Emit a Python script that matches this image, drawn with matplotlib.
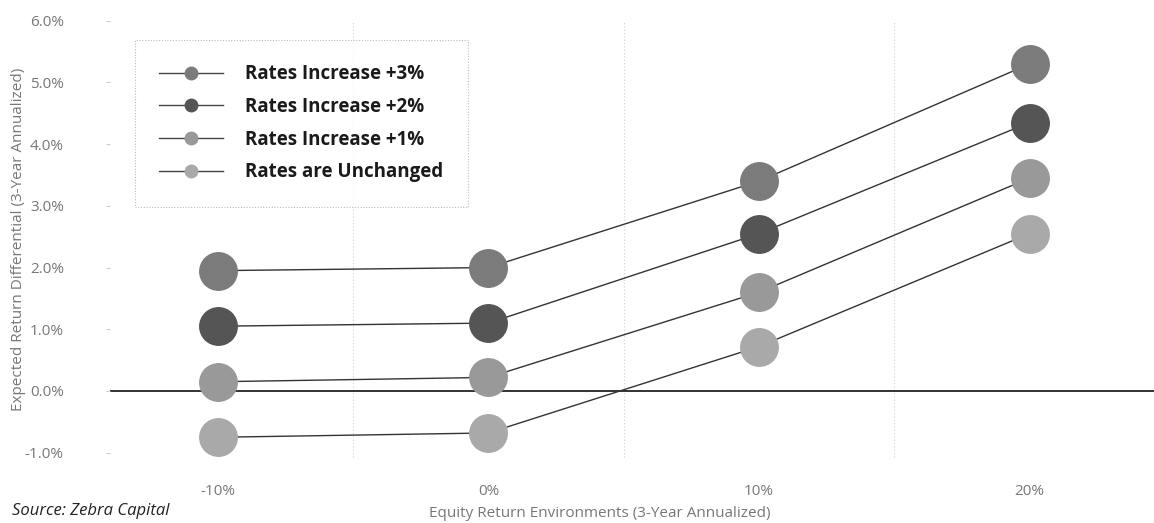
import matplotlib
matplotlib.use("Agg")
import matplotlib.pyplot as plt
from matplotlib.ticker import FuncFormatter

plt.rcParams['font.family'] = ['Open Sans', 'DejaVu Sans']

# data
equity_env = ['-10%', '0%', '10%', '20%']
rates_up3 = [1.95, 2.00, 3.40, 5.30]
rates_up2 = [1.05, 1.10, 2.55, 4.35]
rates_up1 = [0.15, 0.22, 1.60, 3.45]
rates_flat = [-0.75, -0.68, 0.72, 2.55]

series = [
    ('Rates Increase +3%', rates_up3, '#7b7b7b'),
    ('Rates Increase +2%', rates_up2, '#555555'),
    ('Rates Increase +1%', rates_up1, '#999999'),
    ('Rates are Unchanged', rates_flat, '#a9a9a9'),
]

fig = plt.figure(figsize=(11.54, 5.23), dpi=100)
ax = fig.add_axes([0.095, 0.099, 0.905, 0.885])

x = list(range(len(equity_env)))

# faint dotted separators between categories
for xm in [0.5, 1.5, 2.5]:
    ax.axvline(xm, ymin=0.03, ymax=0.97, color='#d0d0d0', lw=0.8, ls=(0, (1, 2)), zorder=0)

ax.axhline(0, color='#222222', lw=1.3, zorder=1)

for name, vals, col in series:
    ax.plot(x, vals, color='#333333', lw=1.0, zorder=2)
    ax.plot(x, vals, ls='none', marker='o', ms=27, mfc=col, mec=col, zorder=3)

# legend handles with small markers
handles = []
for name, vals, col in series:
    h, = ax.plot([], [], color='#444444', lw=1.0, marker='o', ms=9, mfc=col, mec=col, label=name)
    handles.append(h)
leg = ax.legend(handles=handles, loc='upper left', bbox_to_anchor=(0.024, 0.932),
                frameon=True, fancybox=False, handlelength=3.4, borderpad=1.3,
                labelspacing=0.68, handletextpad=1.2, borderaxespad=0,
                prop={'weight': 'bold', 'size': 13.5})
leg.get_frame().set_edgecolor('#aaaaaa')
leg.get_frame().set_linestyle((0, (1, 1.5)))
leg.get_frame().set_linewidth(0.8)
for t in leg.get_texts():
    t.set_color('#1a1a1a')

ax.set_xlim(-0.4, 3.46)
ax.set_ylim(-1.3, 6.2)
ax.set_xticks(x)
ax.set_xticklabels(equity_env)
ax.set_yticks([-1, 0, 1, 2, 3, 4, 5, 6])
ax.yaxis.set_major_formatter(FuncFormatter(lambda v, p: '{:.1f}%'.format(v)))

for s in ax.spines.values():
    s.set_visible(False)
ax.tick_params(axis='y', length=3, color='#cccccc', labelsize=11, labelcolor='#777777', pad=30)
ax.tick_params(axis='x', length=0, labelsize=11, labelcolor='#777777', pad=9)

ax.set_ylabel('Expected Return Differential (3-Year Annualized)', fontsize=11, color='#777777', labelpad=2)
ax.yaxis.set_label_coords(-0.08, 0.5)

fig.text(0.52, 0.018, 'Equity Return Environments (3-Year Annualized)', ha='center', va='center',
         fontsize=11, color='#777777')
fig.text(0.01, 0.022, 'Source: Zebra Capital', ha='left', va='center', fontsize=12,
         style='italic', color='#222222')

fig.savefig('out.png', dpi=100)
